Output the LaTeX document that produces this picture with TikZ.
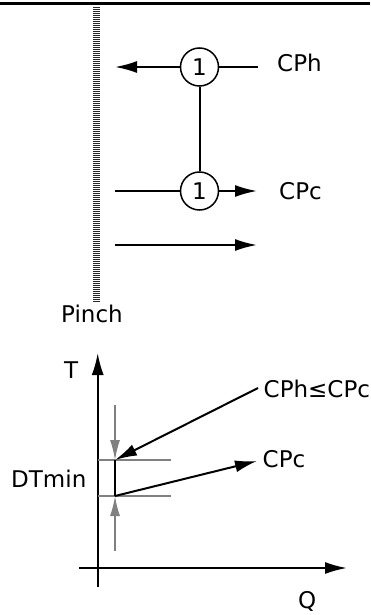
\documentclass[tikz,border=0pt]{standalone}
\usepackage{fontspec}
\setmainfont{DejaVu Sans}
\usetikzlibrary{arrows.meta}
\begin{document}
\begin{tikzpicture}[x=1pt,y=-1pt,
  lbl/.style={anchor=base west,inner sep=0pt,font=\fontsize{23}{27}\selectfont},
  hx/.style={draw,circle,line width=1.5pt,minimum size=38pt,inner sep=0pt,font=\fontsize{23}{27}\selectfont},
  strm/.style={line width=2pt},
  arr/.style={line width=2pt,-{Latex[length=22pt,width=12pt]}},
  garr/.style={line width=1.5pt,draw=gray,-{Latex[length=20pt,width=10pt]}},
  gline/.style={line width=1.5pt,draw=gray}]
\useasboundingbox (0,0) rectangle (370,615);
% top rule
\draw[line width=3.2pt] (0,3.3) -- (370,3.3);
% pinch
\coordinate (p1) at (96.5,7);
\coordinate (p2) at (96.5,302);
\draw[line width=7pt,dash pattern=on 1pt off 1pt,draw=black!85] (p1) -- (p2);
\node[lbl] (pinch) at (61,322.5) {Pinch};
% streams
\node[hx] (c1) at (199.5,67) {1};
\node[hx] (c2) at (199.5,191) {1};
\coordinate (h0) at (258,67);
\coordinate (h1) at (115,67);
\coordinate (k0) at (115,191);
\coordinate (k1) at (257,191);
\coordinate (m0) at (115,245);
\coordinate (m1) at (257,245);
\draw[strm] (h0) -- (c1);
\draw[arr] (c1) -- (h1);
\draw[strm] (k0) -- (c2);
\draw[arr] (c2) -- (k1);
\draw[arr] (m0) -- (m1);
\draw[strm] (c1) -- (c2);
\node[lbl] (cph) at (277,72) {CPh};
\node[lbl] (cpc) at (279,199.5) {CPc};
% graph
\coordinate (t0) at (97.7,587);
\coordinate (t1) at (97.7,353);
\coordinate (q0) at (79,568);
\coordinate (q1) at (347,568);
\draw[arr] (t0) -- (t1);
\draw[arr] (q0) -- (q1);
\node[lbl] (T) at (64,378.5) {T};
\node[lbl] (Q) at (298,608) {Q};
\coordinate (a) at (115,460);
\coordinate (b) at (115,496);
\coordinate (ga0) at (98,460);
\coordinate (ga1) at (171,460);
\coordinate (gb0) at (98,496);
\coordinate (gb1) at (171,496);
\draw[gline] (ga0) -- (ga1);
\draw[gline] (gb0) -- (gb1);
\coordinate (g1) at (115,405);
\coordinate (g2) at (115,551);
\draw[garr] (g1) -- (a);
\draw[garr] (g2) -- (b);
\draw[line width=2pt] (a) -- (b);
\node[lbl] (cle) at (263.5,397.5) {CPh≤CPc};
\node[lbl] (cpc2) at (262.5,467) {CPc};
\node[lbl] (dt) at (11,487.5) {DTmin};
\coordinate (e0) at (258,388);
\coordinate (f1) at (257,461);
\draw[arr] (e0) -- (a);
\draw[arr] (b) -- (f1);
\end{tikzpicture}
\end{document}
